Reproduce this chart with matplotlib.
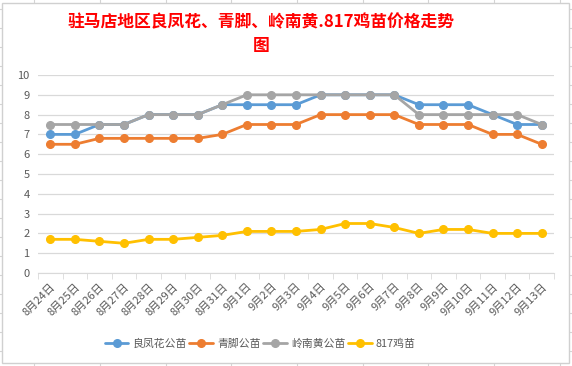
import matplotlib.pyplot as plt
from matplotlib.lines import Line2D
from matplotlib.patches import Rectangle

plt.rcParams['font.family'] = ['Noto Sans CJK SC', 'DejaVu Sans']

dates = ['8月24日', '8月25日', '8月26日', '8月27日', '8月28日', '8月29日', '8月30日',
         '8月31日', '9月1日', '9月2日', '9月3日', '9月4日', '9月5日', '9月6日', '9月7日',
         '9月8日', '9月9日', '9月10日', '9月11日', '9月12日', '9月13日']
liangfeng = [7, 7, 7.5, 7.5, 8, 8, 8, 8.5, 8.5, 8.5, 8.5, 9, 9, 9, 9, 8.5, 8.5, 8.5, 8, 7.5, 7.5]
qingjiao = [6.5, 6.5, 6.8, 6.8, 6.8, 6.8, 6.8, 7, 7.5, 7.5, 7.5, 8, 8, 8, 8, 7.5, 7.5, 7.5, 7, 7, 6.5]
lingnan = [7.5, 7.5, 7.5, 7.5, 8, 8, 8, 8.5, 9, 9, 9, 9, 9, 9, 9, 8, 8, 8, 8, 8, 7.5]
ji817 = [1.7, 1.7, 1.6, 1.5, 1.7, 1.7, 1.8, 1.9, 2.1, 2.1, 2.1, 2.2, 2.5, 2.5, 2.3, 2.0, 2.2, 2.2, 2.0, 2.0, 2.0]

W, H = 572, 366
fig = plt.figure(figsize=(W / 100, H / 100), dpi=100, facecolor='white')

# spreadsheet cells behind the chart
for x in [34, 100, 166, 231, 297, 363, 428, 494, 560]:
    fig.add_artist(Line2D([x / W, x / W], [0, 1], color='#d4d4d4', lw=0.8, zorder=0))
for y in range(9, H, 19):
    fig.add_artist(Line2D([0, 1], [1 - y / H, 1 - y / H], color='#d4d4d4', lw=0.8, zorder=0))
fig.add_artist(Rectangle((2 / W, 1 - 363 / H), 567 / W, 360 / H, facecolor='white',
                         edgecolor='#d0d0d0', lw=1, zorder=1))

ax = fig.add_axes([38 / W, 1 - 273 / H, 516 / W, 198 / H])
ax.set_zorder(2)
ax.patch.set_alpha(0)

x = list(range(len(dates)))
series = [(liangfeng, '良凤花公苗', '#5B9BD5'),
          (qingjiao, '青脚公苗', '#ED7D31'),
          (lingnan, '岭南黄公苗', '#A5A5A5'),
          (ji817, '817鸡苗', '#FFC000')]
for vals, name, c in series:
    ax.plot(x, vals, color=c, lw=2, marker='o', ms=5.5, label=name, solid_capstyle='round')

ax.set_xlim(-0.5, len(dates) - 0.5)
ax.set_ylim(0, 10)
ax.set_yticks(range(0, 11))
ax.grid(axis='y', color='#d9d9d9', lw=0.9)
ax.set_axisbelow(True)
for s in ['top', 'right', 'left']:
    ax.spines[s].set_visible(False)
ax.spines['bottom'].set_color('#d9d9d9')
ax.tick_params(axis='y', length=0, labelsize=8, labelcolor='#595959', pad=6)

ax.set_xticks(x)
ax.set_xticklabels(dates, rotation=45, ha='right', rotation_mode='anchor',
                   fontsize=8, color='#595959')
ax.set_xticks([i - 0.5 for i in range(len(dates) + 1)], minor=True)
ax.tick_params(axis='x', which='major', length=0, pad=6)
ax.tick_params(axis='x', which='minor', length=4, color='#d9d9d9')

fig.text(261 / W, 1 - 22 / H, '驻马店地区良凤花、青脚、岭南黄.817鸡苗价格走势',
         ha='center', va='center', color='red', fontsize=12.1, fontweight='bold')
fig.text(261 / W, 1 - 46 / H, '图', ha='center', va='center', color='red',
         fontsize=12.1, fontweight='bold')

fig.legend(loc='center', bbox_to_anchor=(260 / W, 1 - 344 / H), ncol=4, frameon=False,
           fontsize=7.8, handlelength=2.2, columnspacing=0.25, handletextpad=0.35,
           labelcolor='#595959')

fig.savefig('out.png', dpi=100, facecolor='white')
